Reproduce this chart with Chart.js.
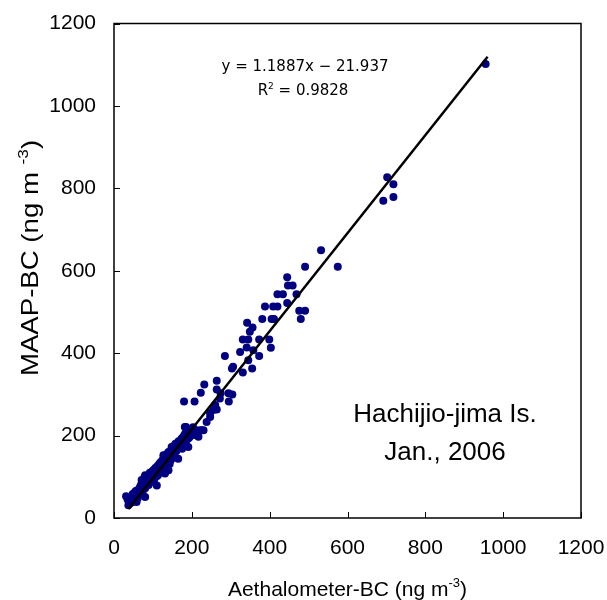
<!DOCTYPE html>
<html>
<head>
<meta charset="utf-8">
<script src="https://cdn.jsdelivr.net/npm/chart.js@4.4.1/dist/chart.umd.min.js"></script>
<style>
  body { margin: 0; background: #fff; }
</style>
</head>
<body>
<canvas id="chart" width="607" height="600"></canvas>
<script>
// Aethalometer-BC (x) vs MAAP-BC (y), ng m-3
const aethalometerBC = [
  31, 37, 35, 40, 42, 44, 47, 50, 52, 54, 56, 58, 60, 62, 64, 66, 68, 70, 71, 73,
  75, 77, 80, 80, 80, 83, 85, 87, 89, 91, 93, 95, 97, 99, 101, 103, 105, 107, 109, 110,
  112, 114, 116, 118, 120, 122, 124, 126, 127, 129, 131, 133, 135, 137, 140, 140, 143, 145, 147, 148,
  150, 152, 154, 156, 158, 160, 162, 165, 166, 168, 170, 173, 175, 178, 180, 182, 185, 187, 189, 191,
  191, 194, 197, 200, 204, 212, 212, 217, 222, 225, 185,
  38, 45, 48, 53, 57, 61, 65, 69, 72, 76, 78, 82, 86, 90, 92, 96, 100, 104, 108, 113,
  117, 121, 125, 128, 132, 136, 139, 144, 146, 151, 155, 159, 163, 167, 171, 176, 179, 183, 188, 193,
  198, 203, 208,
  180, 207, 223, 232, 264, 264, 274, 294, 304, 295, 272, 260, 255, 264, 247, 247, 238, 230,
  285, 303, 306, 324, 331, 345, 355, 373, 341, 358, 403, 331, 345, 373, 399, 342, 356, 349,
  381, 405, 411, 480, 388, 409, 420, 476, 491, 445, 420, 434, 469, 447, 459, 445,
  491, 575, 532, 692, 718, 718, 702, 955
];
const maapBC = [
  53, 31, 45, 40, 36, 50, 42, 55, 46, 63, 50, 39, 58, 68, 55, 74, 62, 70, 92, 60,
  80, 88, 72, 104, 51, 95, 84, 100, 80, 93, 106, 88, 112, 98, 116, 93, 108, 122, 101, 79,
  126, 111, 131, 118, 136, 113, 128, 143, 152, 126, 108, 139, 155, 146, 160, 116, 131, 152, 165, 172,
  158, 174, 147, 168, 180, 162, 176, 144, 186, 171, 185, 192, 168, 180, 200, 221, 186, 215, 205, 172,
  193, 196, 210, 201, 213, 213, 201, 197, 213, 213, 221,
  48, 38, 58, 40, 66, 48, 60, 80, 66, 70, 98, 78, 92, 85, 110, 100, 92, 118, 112, 104,
  128, 125, 118, 138, 148, 135, 150, 160, 140, 165, 160, 170, 182, 178, 176, 195, 190, 205, 200, 212,
  205, 220, 206,
  283, 283, 304, 324, 333, 312, 303, 303, 300, 283, 290, 274, 262, 263, 254, 245, 233, 213,
  393, 363, 367, 403, 353, 383, 363, 393, 414, 407, 413, 433, 433, 433, 433, 474, 462, 452,
  483, 483, 483, 483, 513, 513, 513, 503, 503, 522, 543, 543, 543, 564, 564, 584,
  610, 610, 650, 770, 779, 810, 827, 1102
];

// regression line end points (y = 1.1887x - 21.937)
const fitX = [37, 960];
const fitY = [22.0, 1119.2];

const xTickValues = [0, 200, 400, 600, 800, 1000, 1200];
const yTickValues = [0, 200, 400, 600, 800, 1000, 1200];

const xTitle = [['Aethalometer-BC (ng m', false], ['-3', true], [')', false]];
const yTitle = [['MAAP-BC (ng m ', false], ['-3', true], [')', false]];
const eqLine1 = [['y = 1.1887x \u2212 21.937', false]];
const eqLine2 = [['R', false], ['2', true], [' = 0.9828', false]];
const siteLines = ['Hachijio-jima Is.', 'Jan., 2006'];

const sans = 'Arial, "Liberation Sans", sans-serif';

function drawParts(ctx, parts, x, y, size, family) {
  const supSize = Math.round(size * 0.62);
  let total = 0;
  parts.forEach(([t, sup]) => {
    ctx.font = (sup ? supSize : size) + 'px ' + family;
    total += ctx.measureText(t).width;
  });
  let cx = x - total / 2;
  ctx.textAlign = 'left';
  ctx.textBaseline = 'alphabetic';
  parts.forEach(([t, sup]) => {
    ctx.font = (sup ? supSize : size) + 'px ' + family;
    ctx.fillText(t, cx, sup ? y - size * 0.42 : y);
    cx += ctx.measureText(t).width;
  });
}

const decorPlugin = {
  id: 'decor',
  afterDraw(chart) {
    const { ctx, chartArea: a, scales: { x, y } } = chart;
    ctx.save();
    ctx.strokeStyle = '#000';
    ctx.lineWidth = 1.5;
    ctx.strokeRect(a.left, a.top, a.right - a.left, a.bottom - a.top);

    // inward tick marks
    ctx.lineWidth = 1;
    ctx.beginPath();
    xTickValues.forEach(v => {
      const px = Math.round(x.getPixelForValue(v)) + 0.5;
      ctx.moveTo(px, a.bottom);
      ctx.lineTo(px, a.bottom - 6);
    });
    yTickValues.forEach(v => {
      const py = Math.round(y.getPixelForValue(v)) + 0.5;
      ctx.moveTo(a.left, py);
      ctx.lineTo(a.left + 6, py);
    });
    ctx.stroke();

    ctx.fillStyle = '#000';
    // axis titles
    drawParts(ctx, xTitle, (a.left + a.right) / 2, 596, 21, sans);
    ctx.save();
    ctx.translate(38, 258);
    ctx.rotate(-Math.PI / 2);
    ctx.scale(1.15, 1);
    drawParts(ctx, yTitle, 0, 0, 24, sans);
    ctx.restore();

    // regression text
    drawParts(ctx, eqLine1, 305, 71, 15, '"DejaVu Sans", sans-serif');
    drawParts(ctx, eqLine2, 303, 95, 15, '"DejaVu Sans", sans-serif');

    // site label
    drawParts(ctx, [[siteLines[0], false]], 445, 422, 26, sans);
    drawParts(ctx, [[siteLines[1], false]], 445, 460, 26, sans);
    ctx.restore();
  }
};

new Chart(document.getElementById('chart'), {
  type: 'scatter',
  data: {
    datasets: [
      {
        label: 'fit',
        data: fitX.map((v, i) => ({ x: v, y: fitY[i] })),
        showLine: true,
        borderColor: '#000',
        borderWidth: 2.5,
        pointRadius: 0,
        order: 0
      },
      {
        label: 'BC',
        data: aethalometerBC.map((v, i) => ({ x: v, y: maapBC[i] })),
        backgroundColor: '#000080',
        borderWidth: 0,
        pointRadius: 4,
        order: 1
      }
    ]
  },
  plugins: [decorPlugin],
  options: {
    responsive: false,
    animation: false,
    devicePixelRatio: 1,
    layout: { padding: { top: 23.5, right: 26, left: 0, bottom: 0 } },
    plugins: { legend: { display: false }, tooltip: { enabled: false } },
    scales: {
      x: {
        type: 'linear',
        min: 0, max: 1200,
        afterFit: s => { s.height = 82; s.paddingLeft = 0; s.paddingRight = 0; },
        afterBuildTicks: s => { s.ticks = xTickValues.map(v => ({ value: v })); },
        grid: { display: false, drawTicks: false },
        border: { display: false },
        ticks: { color: '#000', font: { family: sans, size: 21 }, padding: 18, maxRotation: 0,
                 callback: v => String(v) }
      },
      y: {
        type: 'linear',
        min: 0, max: 1200,
        afterFit: s => { s.width = 114; s.paddingTop = 0; s.paddingBottom = 0; },
        afterBuildTicks: s => { s.ticks = yTickValues.map(v => ({ value: v })); },
        grid: { display: false, drawTicks: false },
        border: { display: false },
        ticks: { color: '#000', font: { family: sans, size: 21 }, padding: 18,
                 callback: v => String(v) }
      }
    }
  }
});
</script>
</body>
</html>
